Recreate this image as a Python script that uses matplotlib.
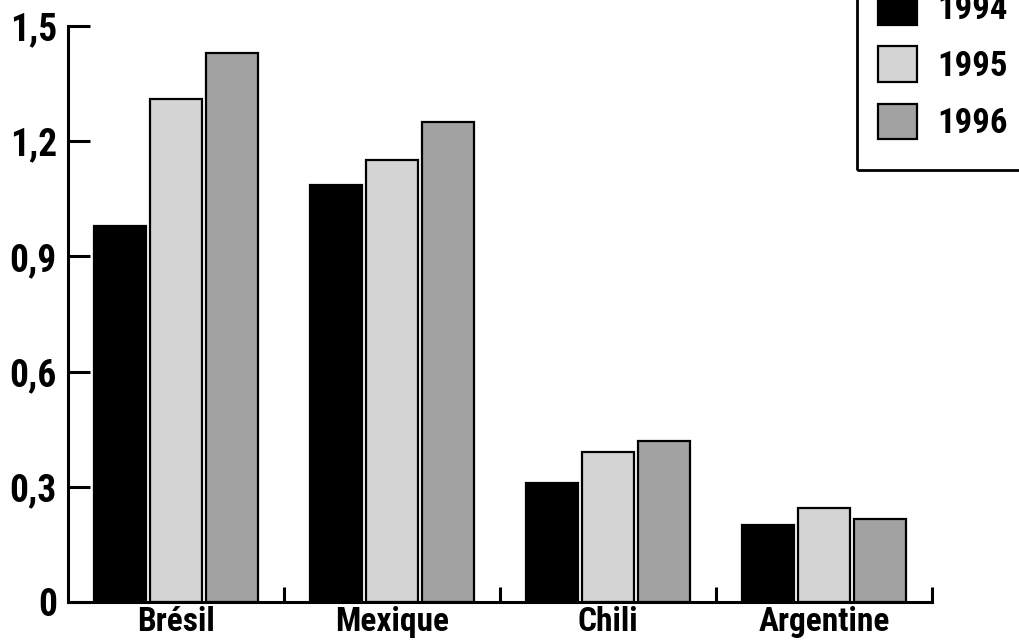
import numpy as np
import matplotlib
matplotlib.use('Agg')
import matplotlib.pyplot as plt
from matplotlib.patches import Rectangle

# 字体: 窄体粗体
plt.rcParams['font.family'] = ['Roboto Condensed', 'DejaVu Sans']
plt.rcParams['font.stretch'] = 'condensed'
plt.rcParams['font.weight'] = 'bold'

# 数据
pays = ['Brésil', 'Mexique', 'Chili', 'Argentine']
annees = ['1994', '1995', '1996']
v1994 = [0.98, 1.085, 0.31, 0.20]
v1995 = [1.31, 1.15, 0.39, 0.245]
v1996 = [1.43, 1.25, 0.42, 0.215]
yticks = [0, 0.3, 0.6, 0.9, 1.2, 1.5]
ytick_labels = ['0', '0,3', '0,6', '0,9', '1,2', '1,5']

couleurs = ['#000000', '#d4d4d4', '#a2a2a2']

fig = plt.figure(figsize=(10.19, 6.4), dpi=100)
ax = fig.add_axes([68 / 1019, 1 - 602 / 640, (932 - 68) / 1019, (602 - 26) / 640])

x = np.arange(len(pays))
largeur = 0.24
pas = 0.26
handles = []
for i, (vals, c, lab) in enumerate(zip([v1994, v1995, v1996], couleurs, annees)):
    b = ax.bar(x + (i - 1) * pas, vals, width=largeur, color=c,
               edgecolor='black', linewidth=1.6, label=lab)
    handles.append(b)

ax.set_xlim(-0.5, 3.5)
ax.set_ylim(0, 1.5)
ax.set_yticks(yticks)
ax.set_yticklabels(ytick_labels, fontsize=27, fontweight='bold')
ax.tick_params(axis='y', direction='in', length=16, width=2.2, pad=8)
ax.set_xticks(x)
ax.set_xticklabels(pays, fontsize=24, fontweight='bold')
ax.tick_params(axis='x', which='major', length=0, pad=3)
ax.set_xticks(x + 0.5, minor=True)
ax.tick_params(axis='x', which='minor', direction='in', length=11, width=2.2)

for s in ['top', 'right']:
    ax.spines[s].set_visible(False)
for s in ['left', 'bottom']:
    ax.spines[s].set_linewidth(2.2)

# 图例
leg = fig.legend(handles=handles, labels=annees, loc='upper left',
                 bbox_to_anchor=(878 / 1019, 1 + 11 / 640), frameon=False,
                 prop={'size': 25, 'weight': 'bold'}, handlelength=1.12,
                 handleheight=1.2, handletextpad=0.58, labelspacing=0.6,
                 borderpad=0, borderaxespad=0)
fig.patches.append(Rectangle((857 / 1019, 1 - 170 / 640), 0.3, 0.5,
                             transform=fig.transFigure, fill=False,
                             edgecolor='black', linewidth=2))

fig.savefig('out.png', dpi=100)
